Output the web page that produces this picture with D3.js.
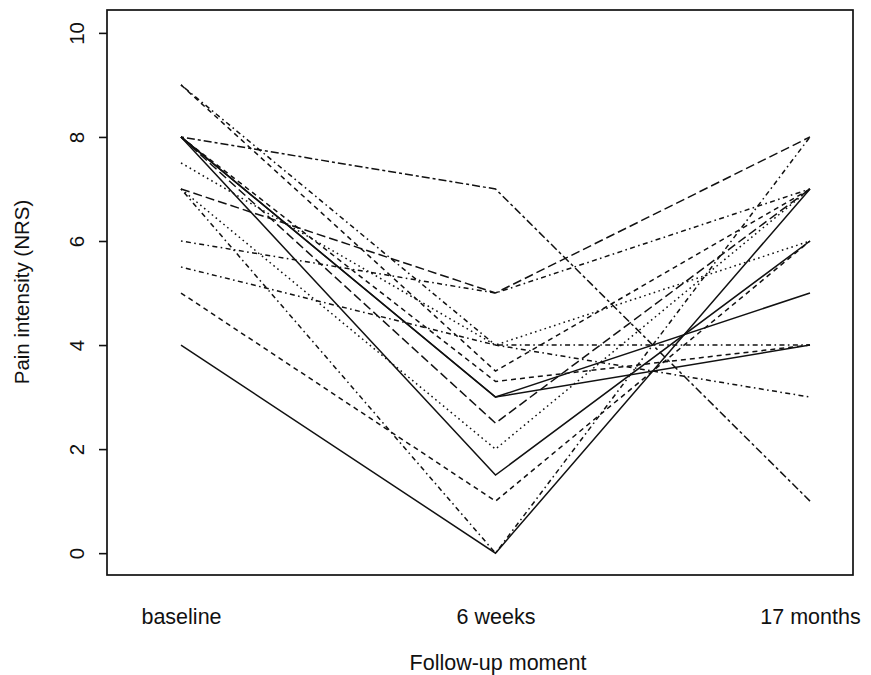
<!DOCTYPE html>
<html>
<head>
<meta charset="utf-8">
<script src="https://cdn.jsdelivr.net/npm/d3@7"></script>
<style>
  html, body { margin: 0; padding: 0; background: #fff; }
  svg { display: block; }
  text { font-family: "Liberation Sans", Arial, sans-serif; fill: #111; }
</style>
</head>
<body>
<svg id="chart" width="871" height="675"></svg>
<script>
// ---- data ----
const timepoints = ["baseline", "6 weeks", "17 months"];
const baseline   = [4, 5, 7, 8, 6, 7, 5.5, 9, 7.5, 8, 8, 8, 8, 7, 9, 8];
const weeks6     = [0, 1, 0, 7, 5, 5, 4, 4, 4, 3, 3, 1.5, 2.5, 2, 3.5, 3.3];
const months17   = [7, 6, 8, 1, 7, 8, 4, 3, 6, 5, 4, 6, 7, 7, 7, 4];
const lineTypes  = ["solid", "dashed", "dotdash", "twodash", "dotdash", "longdash", "dotdash", "dotdash",
                    "dotted", "solid", "solid", "solid", "longdash", "dotted", "dashed", "dashed"];
const yTicks     = [0, 2, 4, 6, 8, 10];

const dashMap = {
  solid: null,
  dashed: "5,4",
  dotted: "1.6,3.4",
  dotdash: "1.6,3.4,5,3.4",
  longdash: "9,4",
  twodash: "3,3,8,3"
};

// ---- layout ----
const svg = d3.select("#chart");
const frame = { left: 107, right: 853, top: 10, bottom: 575 };

const x = d3.scalePoint().domain(timepoints).range([181, 810]);
const y = d3.scaleLinear().domain([-0.42, 10.44]).range([frame.bottom, frame.top]);

// lines
const series = baseline.map((b, i) => [
  { t: timepoints[0], v: b },
  { t: timepoints[1], v: weeks6[i] },
  { t: timepoints[2], v: months17[i] }
]);

const line = d3.line().x(d => x(d.t)).y(d => y(d.v));

svg.append("g")
  .selectAll("path")
  .data(series)
  .join("path")
  .attr("d", line)
  .attr("fill", "none")
  .attr("stroke", "#111")
  .attr("stroke-width", 1.5)
  .attr("stroke-dasharray", (d, i) => dashMap[lineTypes[i]]);

// frame
svg.append("rect")
  .attr("x", frame.left).attr("y", frame.top)
  .attr("width", frame.right - frame.left)
  .attr("height", frame.bottom - frame.top)
  .attr("fill", "none").attr("stroke", "#111").attr("stroke-width", 1.7);

// y axis
const yAxis = d3.axisLeft(y).tickValues(yTicks).tickSize(8).tickPadding(0).tickFormat(d3.format("d"));
const gy = svg.append("g").attr("transform", `translate(${frame.left},0)`).call(yAxis);
gy.select(".domain").remove();
gy.selectAll(".tick line").attr("stroke", "#111").attr("stroke-width", 1.6);
gy.selectAll(".tick text")
  .attr("x", 0).attr("y", 0).attr("dy", 0)
  .attr("transform", "translate(-23,0) rotate(-90)")
  .attr("text-anchor", "middle")
  .style("font-size", "20.5px")
  .style("font-family", "'Liberation Sans', Arial, sans-serif")
  .attr("fill", "#111");

// x labels
const xAxis = d3.axisBottom(x).tickSize(0).tickPadding(0);
const gx = svg.append("g").attr("transform", `translate(0,${frame.bottom})`).call(xAxis);
gx.select(".domain").remove();
gx.selectAll(".tick text")
  .attr("y", 49).attr("dy", 0)
  .style("font-size", "21.5px")
  .style("font-family", "'Liberation Sans', Arial, sans-serif")
  .attr("fill", "#111");

// axis titles
svg.append("text")
  .attr("x", 498).attr("y", 670)
  .attr("text-anchor", "middle")
  .style("font-size", "21.5px")
  .text("Follow-up moment");

svg.append("text")
  .attr("transform", "translate(29,292) rotate(-90)")
  .attr("text-anchor", "middle")
  .style("font-size", "20.5px")
  .text("Pain intensity (NRS)");
</script>
</body>
</html>
